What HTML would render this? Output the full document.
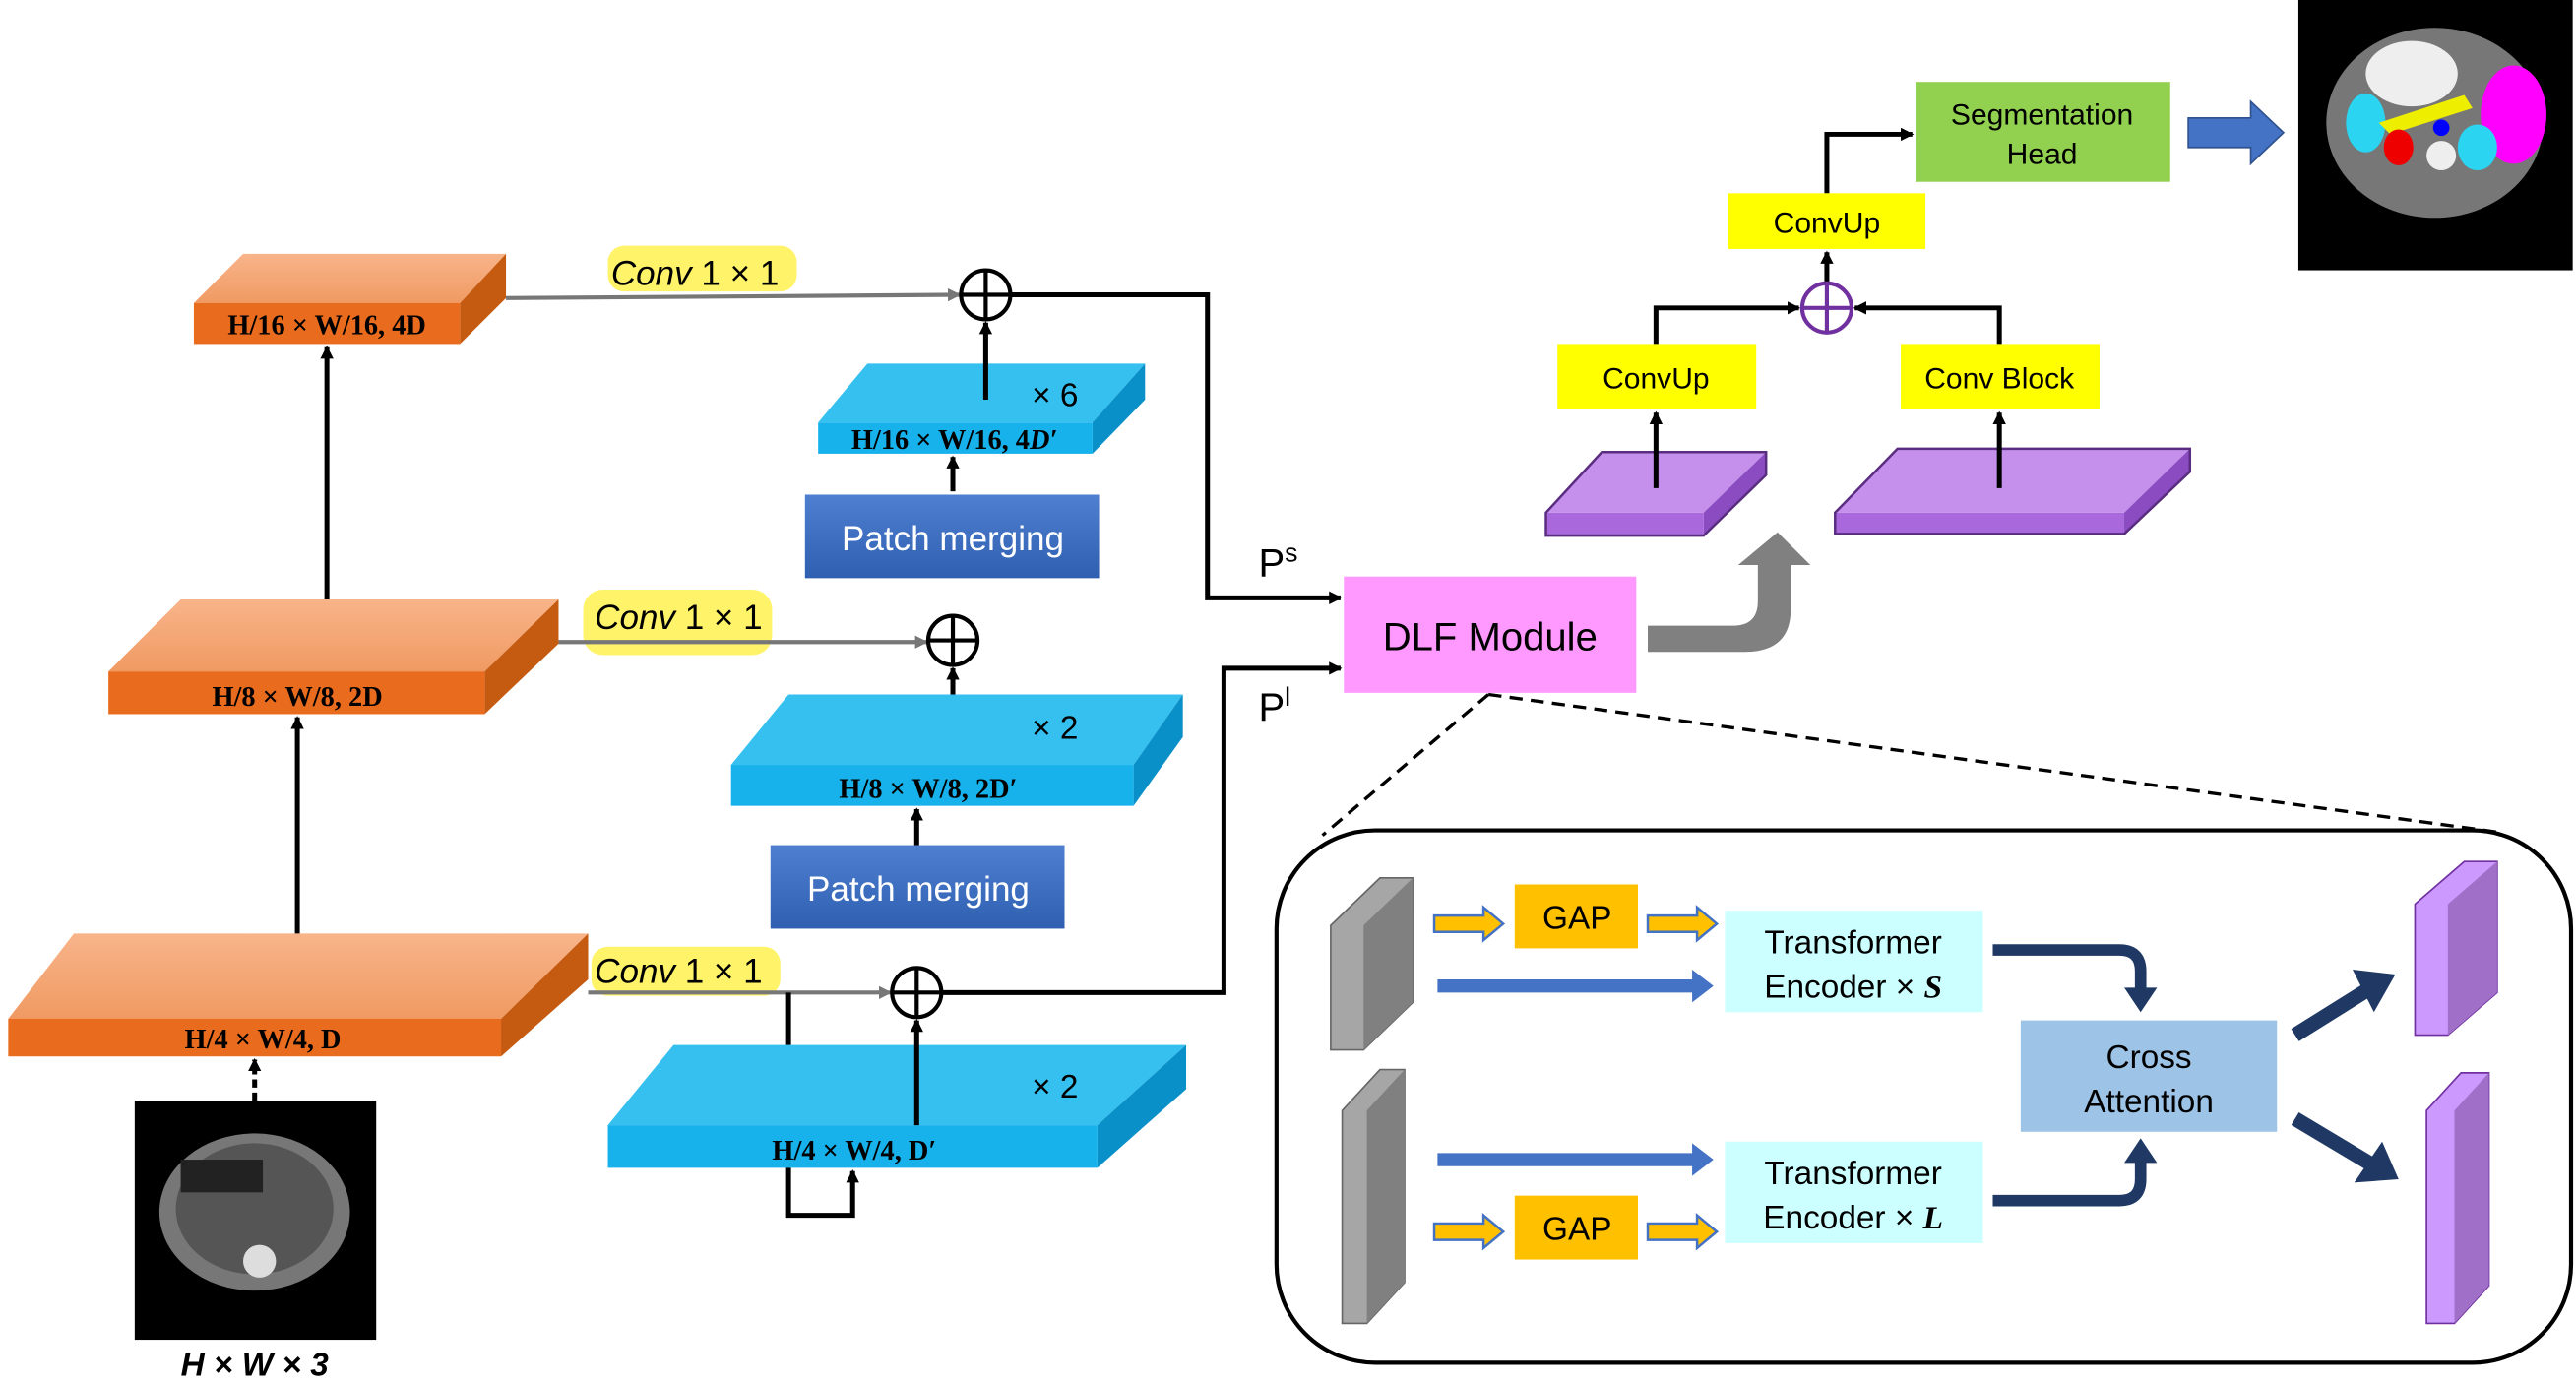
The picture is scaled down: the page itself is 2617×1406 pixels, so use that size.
<!DOCTYPE html>
<html><head><meta charset="utf-8"><style>
html,body{margin:0;padding:0;background:#fff;}
svg{display:block;}
text{font-family:"Liberation Sans",sans-serif;}
.s{font-family:"Liberation Serif",serif;font-weight:bold;}
</style></head><body>
<svg width="2617" height="1406" viewBox="0 0 1568 845" preserveAspectRatio="none" xmlns="http://www.w3.org/2000/svg">
<defs>
<marker id="a" markerWidth="8" markerHeight="8" refX="7" refY="4" orient="auto" markerUnits="userSpaceOnUse"><path d="M0,0 L8,4 L0,8 z" fill="#000"/></marker>
<marker id="g" markerWidth="8" markerHeight="8" refX="7" refY="4" orient="auto" markerUnits="userSpaceOnUse"><path d="M0,0 L8,4 L0,8 z" fill="#777"/></marker>
<linearGradient id="og" x1="0" y1="0" x2="0" y2="1"><stop offset="0" stop-color="#f8b48a"/><stop offset="1" stop-color="#f09a62"/></linearGradient>
<linearGradient id="pm" x1="0" y1="0" x2="0" y2="1"><stop offset="0" stop-color="#4f7fd0"/><stop offset="1" stop-color="#2f5fb0"/></linearGradient>
</defs>
<g stroke="none">
<polygon points="148,155 308,155 280,185 118,185" fill="url(#og)"/><polygon points="280,185 308,155 308,182 280,210" fill="#c55a11"/><rect x="118" y="185" width="162" height="25" fill="#e96b1e"/>
<polygon points="110,366 340,366 295,410 66,410" fill="url(#og)"/><polygon points="295,410 340,366 340,393 295,436" fill="#c55a11"/><rect x="66" y="410" width="229" height="26" fill="#e96b1e"/>
<polygon points="45,570 358,570 305,622 5,622" fill="url(#og)"/><polygon points="305,622 358,570 358,598 305,645" fill="#c55a11"/><rect x="5" y="622" width="300" height="23" fill="#e96b1e"/>
<polygon points="528,222 697,222 665,258 498,258" fill="#35c0f0"/><polygon points="665,258 697,222 697,244 665,277" fill="#0a90c8"/><rect x="498" y="258" width="167" height="19" fill="#17b2ec"/>
<polygon points="480,424 720,424 690,467 445,467" fill="#35c0f0"/><polygon points="690,467 720,424 720,450 690,492" fill="#0a90c8"/><rect x="445" y="467" width="245" height="25" fill="#17b2ec"/>
<polygon points="410,638 722,638 668,687 370,687" fill="#35c0f0"/><polygon points="668,687 722,638 722,665 668,713" fill="#0a90c8"/><rect x="370" y="687" width="298" height="26" fill="#17b2ec"/>
<polygon points="975,276 1075,276 1037,313 941,313" fill="#c490ec"/><polygon points="1037,313 1075,276 1075,290 1037,327" fill="#8a4cc0"/><rect x="941" y="313" width="96" height="14" fill="#a968dc"/>
<polygon points="1155,274 1333,274 1293,313 1117,313" fill="#c490ec"/><polygon points="1293,313 1333,274 1333,288 1293,326" fill="#8a4cc0"/><rect x="1117" y="313" width="176" height="13" fill="#a968dc"/>
</g>
<g stroke="#5a2d80" stroke-width="1.5" fill="none">
<polygon points="975,276 1075,276 1075,290 1037,327 941,327 941,313"/>
<polygon points="1155,274 1333,274 1333,288 1293,326 1117,326 1117,313"/>
</g>
<g font-size="17" fill="#000" text-anchor="middle">
<text x="199" y="204" class="s">H/16 × W/16, 4D</text>
<text x="181" y="431" class="s">H/8 × W/8, 2D</text>
<text x="160" y="640" class="s">H/4 × W/4, D</text>
<text x="581" y="274" class="s">H/16 × W/16, 4<tspan font-style="italic">D′</tspan></text>
<text x="565" y="487" class="s">H/8 × W/8, 2D′</text>
<text x="520" y="708" class="s">H/4 × W/4, D′</text>
</g>
<g font-size="20" fill="#000"><text x="628" y="248" font-family="Liberation Serif">× 6</text><text x="628" y="451" font-family="Liberation Serif">× 2</text><text x="628" y="670" font-family="Liberation Serif">× 2</text></g>
<rect x="490" y="302" width="179" height="51" fill="url(#pm)"/><text x="580" y="336" font-size="21" fill="#fff" text-anchor="middle">Patch merging</text>
<rect x="469" y="516" width="179" height="51" fill="url(#pm)"/><text x="559" y="550" font-size="21" fill="#fff" text-anchor="middle">Patch merging</text>
<rect x="82" y="672" width="147" height="146" fill="#000"/>
<ellipse cx="155" cy="740" rx="58" ry="48" fill="#777"/><ellipse cx="155" cy="738" rx="48" ry="40" fill="#555"/><circle cx="158" cy="770" r="10" fill="#ddd"/><rect x="110" y="708" width="50" height="20" fill="#222"/>
<text x="155" y="840" font-family="Liberation Serif" font-weight="bold" font-style="italic" font-size="20" text-anchor="middle">H × W × 3</text>
<rect x="1399" y="0" width="167" height="165" fill="#000"/>
<ellipse cx="1482" cy="75" rx="66" ry="58" fill="#777"/><ellipse cx="1468" cy="45" rx="28" ry="20" fill="#eee"/><ellipse cx="1530" cy="70" rx="20" ry="30" fill="#f0f"/><ellipse cx="1440" cy="75" rx="12" ry="18" fill="#2bd4f0"/><ellipse cx="1508" cy="90" rx="12" ry="14" fill="#2bd4f0"/><path d="M1448,75 L1500,58 L1505,66 L1455,82z" fill="#ee0"/><ellipse cx="1460" cy="90" rx="9" ry="11" fill="#e00"/><circle cx="1486" cy="95" r="9" fill="#eee"/><circle cx="1486" cy="78" r="5" fill="#00f"/>
<g fill="#fff36a"><rect x="370" y="150" width="115" height="28" rx="10"/><rect x="355" y="360" width="115" height="40" rx="12"/><rect x="360" y="578" width="115" height="30" rx="10"/></g>
<g font-size="21"><text x="372" y="174" font-family="Liberation Serif"><tspan font-style="italic">Conv</tspan> 1 × 1</text><text x="362" y="384" font-family="Liberation Serif"><tspan font-style="italic">Conv</tspan> 1 × 1</text><text x="362" y="600" font-family="Liberation Serif"><tspan font-style="italic">Conv</tspan> 1 × 1</text></g>
<g stroke="#777" stroke-width="2.5" fill="none" marker-end="url(#g)"><line x1="308" y1="182" x2="584" y2="180"/><line x1="340" y1="392" x2="564" y2="392"/><line x1="358" y1="606" x2="542" y2="606"/></g>
<g stroke="#000" stroke-width="3" fill="none" marker-end="url(#a)">
<line x1="199" y1="366" x2="199" y2="212"/><line x1="181" y1="570" x2="181" y2="438"/><line x1="155" y1="672" x2="155" y2="647" stroke-dasharray="5,3"/>
<line x1="600" y1="244" x2="600" y2="197"/><line x1="580" y1="300" x2="580" y2="279"/><line x1="580" y1="424" x2="580" y2="408"/><line x1="558" y1="516" x2="558" y2="494"/><line x1="558" y1="687" x2="558" y2="623"/>
<polyline points="480,713 480,742 519,742 519,715"/>
<polyline points="615,180 735,180 735,365 816,365"/><polyline points="573,606 745,606 745,408 816,408"/>
<line x1="1008" y1="298" x2="1008" y2="252"/><line x1="1217" y1="298" x2="1217" y2="252"/>
<polyline points="1008,210 1008,188 1095,188"/><polyline points="1217,210 1217,188 1129,188"/>
<line x1="1112" y1="173" x2="1112" y2="154"/><polyline points="1112,118 1112,82 1164,82"/>
</g>
<line x1="480" y1="638" x2="480" y2="606" stroke="#000" stroke-width="3"/>
<g fill="#fff" stroke="#000" stroke-width="2.5"><circle cx="600" cy="180" r="15"/><circle cx="580" cy="391" r="15"/><circle cx="558" cy="606" r="15"/></g>
<g stroke="#000" stroke-width="2.5"><path d="M585,180h30M600,165v30M565,391h30M580,376v30M543,606h30M558,591v30"/></g>
<circle cx="1112" cy="188" r="15" fill="#fff" stroke="#7030a0" stroke-width="2.5"/><path d="M1097,188h30M1112,173v30" stroke="#7030a0" stroke-width="2.5"/>
<text x="766" y="352" font-family="Liberation Serif" font-size="24">P<tspan font-size="16" dy="-9">s</tspan></text>
<text x="766" y="440" font-family="Liberation Serif" font-size="24">P<tspan font-size="16" dy="-9">l</tspan></text>
<rect x="818" y="352" width="178" height="71" fill="#ff99ff"/><text x="907" y="397" font-size="24" text-anchor="middle">DLF Module</text>
<path d="M1003,382 L1055,382 Q1070,382 1070,367 L1070,345 L1058,345 L1082,325 L1102,345 L1090,345 L1090,372 Q1090,398 1062,398 L1003,398z" fill="#808080"/>
<rect x="948" y="210" width="121" height="40" fill="#ffff00"/><text x="1008" y="237" font-size="18" text-anchor="middle">ConvUp</text>
<rect x="1157" y="210" width="121" height="40" fill="#ffff00"/><text x="1217" y="237" font-size="18" text-anchor="middle">Conv Block</text>
<rect x="1052" y="118" width="120" height="34" fill="#ffff00"/><text x="1112" y="142" font-size="18" text-anchor="middle">ConvUp</text>
<rect x="1166" y="50" width="155" height="61" fill="#92d050"/><text x="1243" y="76" font-size="18" text-anchor="middle">Segmentation</text><text x="1243" y="100" font-size="18" text-anchor="middle">Head</text>
<path d="M1332,72 L1370,72 L1370,62 L1390,81 L1370,100 L1370,90 L1332,90z" fill="#4472c4" stroke="#2f528f"/>
<g stroke="#000" stroke-width="2" stroke-dasharray="8,5"><line x1="906" y1="424" x2="805" y2="510"/><line x1="906" y1="424" x2="1520" y2="508"/></g>
<rect x="777" y="507" width="788" height="325" rx="60" fill="none" stroke="#000" stroke-width="2.5"/>
<polygon points="810,565 840,536 860,536 860,612 830,641 810,641" fill="#a6a6a6" stroke="#666"/><polygon points="830,565 860,536 860,612 830,641" fill="#808080"/>
<polygon points="817,678 840,653 855,653 855,783 832,808 817,808" fill="#a6a6a6" stroke="#666"/><polygon points="832,678 855,653 855,783 832,808" fill="#808080"/>
<polygon points="1470,552 1500,526 1520,526 1520,606 1490,632 1470,632" fill="#cc99ff" stroke="#7030a0"/><polygon points="1490,552 1520,526 1520,606 1490,632" fill="#a070c8"/>
<polygon points="1477,678 1498,655 1515,655 1515,785 1494,808 1477,808" fill="#cc99ff" stroke="#7030a0"/><polygon points="1494,678 1515,655 1515,785 1494,808" fill="#a070c8"/>
<g fill="#ffc000" stroke="#4472c4" stroke-width="1.5"><path d="M873,559h30v-5l12,10-12,10v-5h-30z"/><path d="M1003,559h30v-5l12,10-12,10v-5h-30z"/><path d="M873,747h30v-5l12,10-12,10v-5h-30z"/><path d="M1003,747h30v-5l12,10-12,10v-5h-30z"/></g>
<g fill="#4472c4"><path d="M875,598h155v-6l13,10-13,10v-6h-155z"/><path d="M875,704h155v-6l13,10-13,10v-6h-155z"/></g>
<rect x="922" y="540" width="75" height="39" fill="#ffc000"/><text x="960" y="567" font-size="20" text-anchor="middle">GAP</text>
<rect x="922" y="730" width="75" height="39" fill="#ffc000"/><text x="960" y="757" font-size="20" text-anchor="middle">GAP</text>
<rect x="1050" y="556" width="157" height="62" fill="#ccffff"/><text x="1128" y="582" font-size="20" text-anchor="middle">Transformer</text><text x="1128" y="609" font-size="20" text-anchor="middle">Encoder × <tspan font-family="Liberation Serif" font-style="italic" font-weight="bold">S</tspan></text>
<rect x="1050" y="697" width="157" height="62" fill="#ccffff"/><text x="1128" y="723" font-size="20" text-anchor="middle">Transformer</text><text x="1128" y="750" font-size="20" text-anchor="middle">Encoder × <tspan font-family="Liberation Serif" font-style="italic" font-weight="bold">L</tspan></text>
<rect x="1230" y="623" width="156" height="68" fill="#9dc3e6"/><text x="1308" y="652" font-size="20" text-anchor="middle">Cross</text><text x="1308" y="679" font-size="20" text-anchor="middle">Attention</text>
<g fill="none" stroke="#1f3864" stroke-width="7"><path d="M1213,580 L1290,580 Q1303,580 1303,593 L1303,605"/><path d="M1213,733 L1290,733 Q1303,733 1303,720 L1303,708"/></g>
<path d="M1293,603 L1313,603 L1303,618z" fill="#1f3864"/><path d="M1293,710 L1313,710 L1303,695z" fill="#1f3864"/>
<g stroke="#1f3864" stroke-width="9"><line x1="1397" y1="632" x2="1440" y2="605"/><line x1="1397" y1="683" x2="1442" y2="710"/></g>
<path d="M1432,592 L1458,595 L1445,618z" fill="#1f3864"/><path d="M1433,722 L1460,720 L1450,697z" fill="#1f3864"/>
</svg>
</body></html>
